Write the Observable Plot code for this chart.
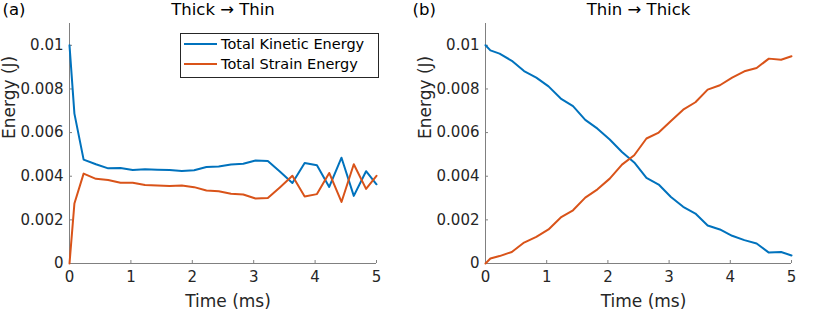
<!DOCTYPE html>
<html>
<head>
<meta charset="utf-8">
<script src="https://cdn.jsdelivr.net/npm/d3@7"></script>
<script src="https://cdn.jsdelivr.net/npm/@observablehq/plot@0.6"></script>
<style>
  body { margin: 0; background: #fff; font-family: "DejaVu Sans", sans-serif; }
  #wrap { position: relative; width: 830px; height: 312px; overflow: hidden; }
  #left { position: absolute; left: 0; top: 0; }
  #right { position: absolute; left: 410px; top: 0; }
  .legend { position: absolute; left: 180px; top: 33px; width: 197px; height: 43px;
            border: 1px solid #262626; background: #fff; font-size: 14.5px; color: #000; }
  .legend .row { position: absolute; left: 3px; height: 18px; display: flex; align-items: center; white-space: nowrap; }
  .legend .sw { width: 33px; height: 2px; margin-right: 4px; }
</style>
</head>
<body>
<div id="wrap">
  <div id="left"></div>
  <div id="right"></div>
</div>
<script>
// ---- data ----
const time = [0, 0.08, 0.23, 0.43, 0.63, 0.83, 1.03, 1.23, 1.43, 1.63, 1.83, 2.03, 2.23, 2.43,
              2.63, 2.83, 3.03, 3.23, 3.43, 3.63, 3.83, 4.03, 4.23, 4.43, 4.63, 4.83, 5.0];

// (a) Thick -> Thin
const kineticA = [0.0100, 0.00687, 0.00476, 0.00455, 0.00436, 0.00438, 0.00429, 0.00432, 0.00430,
                  0.00428, 0.00424, 0.00427, 0.00442, 0.00445, 0.00454, 0.00457, 0.00472, 0.00470,
                  0.00420, 0.00369, 0.00461, 0.00450, 0.00351, 0.00485, 0.00310, 0.00423, 0.00363];
const strainA  = [0.0000, 0.00275, 0.00412, 0.00388, 0.00383, 0.00370, 0.00370, 0.00360, 0.00357,
                  0.00355, 0.00357, 0.00350, 0.00335, 0.00331, 0.00320, 0.00316, 0.00298, 0.00300,
                  0.00350, 0.00402, 0.00307, 0.00318, 0.00415, 0.00282, 0.00455, 0.00342, 0.00402];

// (b) Thin -> Thick
const kineticB = [0.0100, 0.00977, 0.00962, 0.00929, 0.00882, 0.00852, 0.00812, 0.00756, 0.00721,
                  0.00658, 0.00618, 0.00568, 0.00511, 0.00463, 0.00392, 0.00362, 0.00305, 0.00260,
                  0.00229, 0.00174, 0.00156, 0.00127, 0.00107, 0.00092, 0.00050, 0.00053, 0.00037];
const strainB  = [0.0000, 0.00023, 0.00034, 0.00053, 0.00096, 0.00122, 0.00156, 0.00211, 0.00244,
                  0.00302, 0.00340, 0.00389, 0.00453, 0.00496, 0.00573, 0.00600, 0.00653, 0.00705,
                  0.00739, 0.00797, 0.00817, 0.00852, 0.00881, 0.00896, 0.00939, 0.00934, 0.00950];

const seriesNames = ["Total Kinetic Energy", "Total Strain Energy"];
const colors = ["#0072BD", "#D95319"];
const titles = ["Thick \u2192 Thin", "Thin \u2192 Thick"];
const tags = ["(a)", "(b)"];
const xLabel = "Time (ms)";
const yLabel = "Energy (J)";
const xTicks = [0, 1, 2, 3, 4, 5];
const xTickLabels = ["0", "1", "2", "3", "4", "5"];
const yTicks = [0, 0.002, 0.004, 0.006, 0.008, 0.01];
const yTickLabels = ["0", "0.002", "0.004", "0.006", "0.008", "0.01"];

const axisColor = "#808080";
const textColor = "#262626";

function panel({kinetic, strain, title, tag, width, marginLeft, marginRight}) {
  const rows = [];
  time.forEach((t, i) => rows.push({t, e: kinetic[i], s: seriesNames[0]}));
  time.forEach((t, i) => rows.push({t, e: strain[i], s: seriesNames[1]}));
  return Plot.plot({
    width, height: 312,
    marginLeft, marginRight, marginTop: 23, marginBottom: 49,
    style: {fontFamily: "DejaVu Sans", fontSize: "15px", color: textColor, background: "white", overflow: "visible"},
    x: {domain: [0, 5]},
    y: {domain: [0, 0.011]},
    color: {domain: seriesNames, range: colors},
    marks: [
      Plot.ruleX([0], {stroke: axisColor}),
      Plot.ruleY([0], {stroke: axisColor}),
      Plot.axisX({ticks: xTicks, tickSize: -3, tickPadding: 11, stroke: axisColor, fill: textColor,
                  tickFormat: d => xTickLabels[xTicks.indexOf(d)], label: null, fontSize: 15}),
      Plot.axisY({ticks: yTicks, tickSize: -3, tickPadding: 9, stroke: axisColor, fill: textColor,
                  tickFormat: d => yTickLabels[yTicks.indexOf(d)], label: null, fontSize: 15}),
      Plot.line(rows, {x: "t", y: "e", stroke: "s", z: "s", strokeWidth: 2}),
      Plot.text([title], {text: d => d, frameAnchor: "top", dy: -14, fontSize: 16.5, fill: "#000", lineAnchor: "middle"}),
      Plot.text([tag], {text: d => d, frameAnchor: "top-left", textAnchor: "start", dx: 2 - marginLeft, dy: -14, fontSize: 16.5, fill: "#000", lineAnchor: "middle"}),
      Plot.text([xLabel], {text: d => d, frameAnchor: "bottom", dx: 5, dy: 38.5, fontSize: 17, fill: textColor, lineAnchor: "middle"}),
      Plot.text([yLabel], {text: d => d, frameAnchor: "left", rotate: -90, dx: -60, dy: -4.5, fontSize: 17, fill: textColor, lineAnchor: "middle"})
    ]
  });
}

document.getElementById("left").appendChild(panel({
  kinetic: kineticA, strain: strainA, title: titles[0], tag: tags[0],
  width: 410, marginLeft: 69, marginRight: 34
}));
document.getElementById("right").appendChild(panel({
  kinetic: kineticB, strain: strainB, title: titles[1], tag: tags[1],
  width: 420, marginLeft: 75, marginRight: 39
}));

// legend (left panel)
const legend = document.createElement("div");
legend.className = "legend";
seriesNames.forEach((name, i) => {
  const row = document.createElement("div");
  row.className = "row";
  row.style.top = (1 + i * 19.5) + "px";
  const sw = document.createElement("div");
  sw.className = "sw";
  sw.style.background = colors[i];
  const tx = document.createElement("span");
  tx.textContent = name;
  row.appendChild(sw);
  row.appendChild(tx);
  legend.appendChild(row);
});
document.getElementById("wrap").appendChild(legend);
</script>
</body>
</html>
